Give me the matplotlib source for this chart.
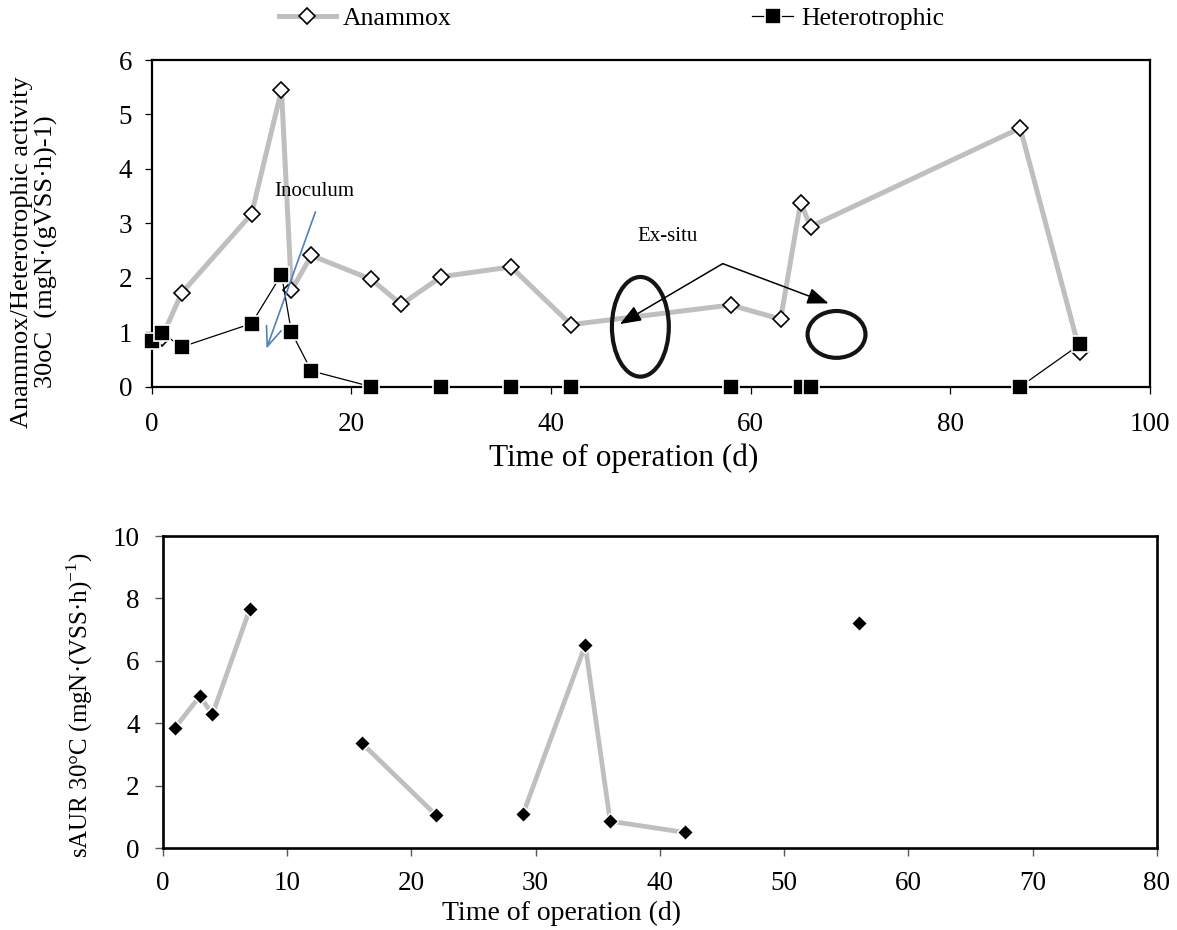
import matplotlib
matplotlib.use('Agg')
import matplotlib.pyplot as plt
from matplotlib.patches import Ellipse
from matplotlib.lines import Line2D

# ---------------- data ----------------
# Top panel: specific activities (mgN/(gVSS h)) at 30 oC
anammox_days = [1, 3, 10, 13, 14, 16, 22, 25, 29, 36, 42, 58, 63, 65, 66, 87, 93]
anammox_vals = [0.90, 1.72, 3.17, 5.45, 1.77, 2.41, 1.97, 1.51, 2.02, 2.20, 1.14,
                1.50, 1.24, 3.38, 2.94, 4.75, 0.63]
hetero_days = [0, 1, 3, 10, 13, 14, 16, 22, 29, 36, 42, 58, 65, 66, 87, 93]
hetero_vals = [0.84, 0.99, 0.73, 1.16, 2.06, 1.00, 0.29, 0, 0, 0, 0, 0, 0, 0, 0, 0.78]

# Bottom panel: sAUR 30 oC
saur_days = [1, 3, 4, 7, 16, 22, 29, 34, 36, 42, 56]
saur_vals = [3.86, 4.87, 4.28, 7.65, 3.37, 1.05, 1.10, 6.50, 0.86, 0.50, 7.20]
saur_segment = [0, 0, 0, 0, 1, 1, 2, 2, 2, 2, 3]

top_xticks = [0, 20, 40, 60, 80, 100]
top_yticks = [0, 1, 2, 3, 4, 5, 6]
bot_xticks = [0, 10, 20, 30, 40, 50, 60, 70, 80]
bot_yticks = [0, 2, 4, 6, 8, 10]

# ---------------- figure ----------------
W, H = 1177, 930
fig = plt.figure(figsize=(W / 100, H / 100), dpi=100)
SERIF = ['Liberation Serif', 'DejaVu Serif']
plt.rcParams['font.family'] = SERIF


def fx(px):
    return px / W


def fy(py):
    return 1 - py / H


ax1 = fig.add_axes([fx(151.7), fy(386.7), (1150 - 151.7) / W, (386.7 - 60) / H])
ax2 = fig.add_axes([fx(162.7), fy(848), (1157 - 162.7) / W, (848 - 536) / H])

grey = '#BFBFBF'

# ---- top panel ----
ax1.plot(anammox_days, anammox_vals, color=grey, lw=3.6, marker='D', ms=8.2,
         mfc='white', mec='black', mew=1.2, zorder=3, clip_on=False)
ax1.plot(hetero_days, hetero_vals, color='black', lw=0.9, marker='s', ms=11,
         mfc='black', mec='white', mew=1.2, zorder=4, clip_on=False)

ax1.set_xlim(0, 100)
ax1.set_ylim(0, 6)
ax1.set_xticks(top_xticks)
ax1.set_yticks(top_yticks)
for s in ax1.spines.values():
    s.set_linewidth(1.6)
    s.set_color('black')
ax1.tick_params(direction='out', length=5, width=0.9, colors='black',
                labelsize=19.5)
ax1.tick_params(axis='x', pad=13)
ax1.tick_params(axis='y', pad=9)

# annotations
ax1.add_patch(Ellipse((48.95, 1.10), 5.7, 1.83, fill=False, lw=3.0,
                      ec='#141414', zorder=6))
ax1.add_patch(Ellipse((68.6, 0.96), 5.8, 0.86, fill=False, lw=3.0,
                      ec='#141414', zorder=6))
ax1.text(51.7, 2.76, 'Ex-situ', fontsize=15, ha='center', va='center')
for tip in [(46.9, 1.15), (67.8, 1.53)]:
    ax1.annotate('', xy=tip, xytext=(57.2, 2.26),
                 arrowprops=dict(arrowstyle='-|>,head_length=0.65,head_width=0.25',
                                 color='black', lw=1.1, shrinkA=0, shrinkB=0,
                                 mutation_scale=20), zorder=7)
ax1.text(16.3, 3.58, 'Inoculum', fontsize=15, ha='center', va='center')
ax1.annotate('', xy=(11.5, 0.70), xytext=(16.4, 3.21),
             arrowprops=dict(arrowstyle='->,head_length=0.7,head_width=0.28',
                             color='#4F81BD', lw=1.2, shrinkA=0, shrinkB=0,
                             mutation_scale=20), zorder=8)

fig.text(fx(624), fy(458), 'Time of operation (d)', fontsize=22.5,
         ha='center', va='center')
fig.text(fx(34.5), fy(252),
         'Anammox/Heterotrophic activity\n30oC  (mgN\u00b7(gVSS\u00b7h)-1)',
         fontsize=19, rotation=90, ha='center', va='center',
         multialignment='center', linespacing=1.15)

# legend
h_an = Line2D([], [], color=grey, lw=3.6, marker='D', ms=8.2, mfc='white',
              mec='black', mew=1.2)
h_he = Line2D([], [], color='black', lw=0.9, marker='s', ms=11, mfc='black',
              mec='white', mew=1.2)
fig.legend([h_an], ['Anammox'], loc='center left', bbox_to_anchor=(fx(279), fy(19)),
           frameon=False, fontsize=18.5, borderpad=0, borderaxespad=0,
           handlelength=2.2, handletextpad=0.3)
fig.legend([h_he], ['Heterotrophic'], loc='center left',
           bbox_to_anchor=(fx(752), fy(19)), frameon=False, fontsize=18.5,
           borderpad=0, borderaxespad=0, handlelength=1.6, handletextpad=0.3)

# ---- bottom panel ----
for seg in sorted(set(saur_segment)):
    xs = [d for d, g in zip(saur_days, saur_segment) if g == seg]
    ys = [v for v, g in zip(saur_vals, saur_segment) if g == seg]
    ax2.plot(xs, ys, color=grey, lw=3.4, zorder=2)
ax2.plot(saur_days, saur_vals, ls='none', marker='D', ms=8.2, mfc='black',
         mec='white', mew=1.0, zorder=3)
ax2.set_xlim(0, 80)
ax2.set_ylim(0, 10)
ax2.set_xticks(bot_xticks)
ax2.set_yticks(bot_yticks)
for s in ax2.spines.values():
    s.set_linewidth(1.9)
    s.set_color('black')
ax2.tick_params(direction='out', length=5.5, width=1.0, colors='#595959',
                labelcolor='black', labelsize=19.5)
ax2.tick_params(axis='x', pad=11)
ax2.tick_params(axis='y', pad=11)
fig.text(fx(562), fy(913), 'Time of operation (d)', fontsize=20,
         ha='center', va='center')
fig.text(fx(79.5), fy(705), 'sAUR 30\u00b0C (mgN\u00b7(VSS\u00b7h)$^{\\mathregular{-1}}$)',
         fontsize=18, rotation=90, ha='center', va='center')

fig.savefig('out.png', dpi=100)
